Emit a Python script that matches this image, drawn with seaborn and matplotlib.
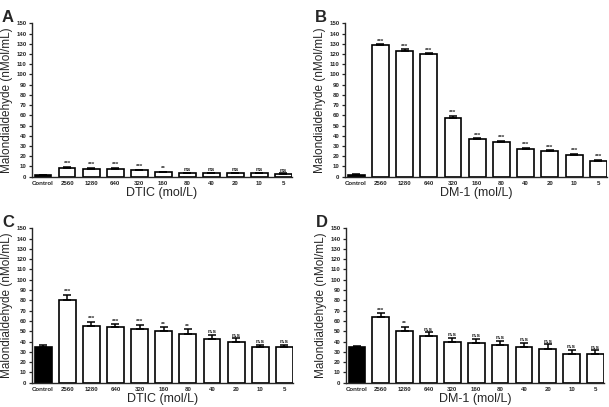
import numpy as np
import seaborn as sns
import matplotlib
matplotlib.use("Agg")
import matplotlib.pyplot as plt

sns.set_style("ticks")
plt.rcParams["font.family"] = ["Liberation Sans", "DejaVu Sans"]

doses = ["Control", "2560", "1280", "640", "320", "160", "80", "40", "20", "10", "5"]

mda_a = [1.5, 8.5, 7.8, 7.8, 6.2, 4.2, 3.3, 3.3, 3.3, 3.3, 2.6]
err_a = [0.5, 0.8, 0.6, 0.6, 0.8, 0.8, 0.6, 0.5, 0.5, 0.5, 0.6]
sig_a = ["", "***", "***", "***", "***", "**", "ns", "ns", "ns", "ns", "ns"]

mda_b = [2.0, 128.5, 122.9, 119.7, 57.7, 36.5, 33.9, 27.4, 24.8, 21.5, 15.6]
err_b = [0.8, 1.0, 1.5, 1.0, 1.5, 1.0, 1.0, 1.0, 1.0, 1.0, 1.0]
sig_b = ["", "***", "***", "***", "***", "***", "***", "***", "***", "***", "***"]

mda_c = [35.0, 80.6, 55.3, 53.7, 52.1, 49.8, 47.6, 42.4, 39.8, 34.3, 34.3]
err_c = [1.6, 4.5, 3.9, 3.0, 3.9, 4.0, 4.2, 3.9, 3.3, 2.3, 2.3]
sig_c = ["", "***", "***", "***", "***", "**", "**", "n.s", "n.s", "n.s", "n.s"]

mda_d = [34.5, 63.8, 50.5, 45.0, 39.8, 38.8, 36.6, 35.0, 33.0, 28.2, 27.5]
err_d = [1.5, 3.5, 3.9, 3.9, 3.9, 3.9, 3.9, 3.8, 4.2, 3.8, 3.9]
sig_d = ["", "***", "**", "n.s", "n.s", "n.s", "n.s", "n.s", "n.s", "n.s", "n.s"]

W, H = 609, 407
fig = plt.figure(figsize=(W / 100, H / 100), dpi=100)

panels = [
    ("A", "DTIC (mol/L)", mda_a, err_a, sig_a, (32, 292, 23.3, 176.7)),
    ("B", "DM-1 (mol/L)", mda_b, err_b, sig_b, (345, 607, 23.3, 176.7)),
    ("C", "DTIC (mol/L)", mda_c, err_c, sig_c, (32, 293, 228.3, 382.7)),
    ("D", "DM-1 (mol/L)", mda_d, err_d, sig_d, (346, 604, 228.3, 382.7)),
]

colors = {d: ("black" if d == "Control" else "white") for d in doses}

for letter, xlab, vals, errs, sigs, (x0, x1, yt, yb) in panels:
    ax = fig.add_axes([x0 / W, 1 - yb / H, (x1 - x0) / W, (yb - yt) / H])
    sns.barplot(x=doses, y=vals, hue=doses, palette=colors, legend=False,
                order=doses, width=0.7, edgecolor="black", linewidth=1.2, ax=ax)
    pos = np.arange(len(doses))
    ax.errorbar(pos, vals, yerr=[np.zeros(len(errs)), errs], fmt="none",
                ecolor="black", elinewidth=1.1, capsize=2.7, capthick=1.1)
    for p, v, e, s in zip(pos, vals, errs, sigs):
        if s:
            ax.text(p, v + e + 0.8, s, ha="center", va="bottom",
                    fontsize=4.5, fontweight="bold")
    ax.set_xlim(-0.46, len(doses) - 0.64)
    ax.set_ylim(0, 150)
    ax.set_yticks(range(0, 151, 10))
    ax.tick_params(axis="y", labelsize=4.4, length=2.5, width=0.9, pad=1.5)
    ax.tick_params(axis="x", labelsize=4.4, length=0, pad=3)
    for t in ax.get_xticklabels() + ax.get_yticklabels():
        t.set_fontweight("bold")
    for sp in ["top", "right"]:
        ax.spines[sp].set_visible(False)
    for sp in ["left", "bottom"]:
        ax.spines[sp].set_linewidth(1.0)
    ax.set_xlabel(xlab, fontsize=9, labelpad=1)
    ax.set_ylabel("Malondialdehyde (nMol/mL)", fontsize=8.5, labelpad=2)
    fig.text((x0 - 30) / W, 1 - (yt - 6) / H, letter, fontsize=12,
             fontweight="bold", ha="left", va="center")

fig.savefig("out.png", dpi=100)
